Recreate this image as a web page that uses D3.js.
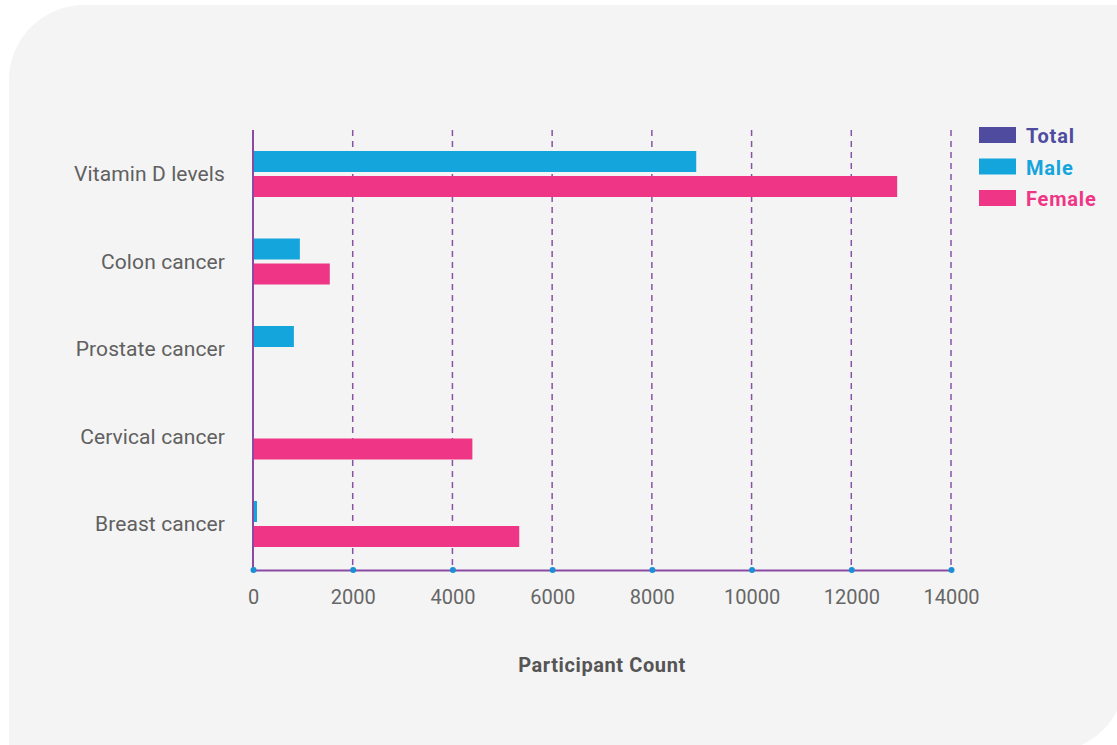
<!DOCTYPE html>
<html>
<head>
<meta charset="utf-8">
<script src="https://cdn.jsdelivr.net/npm/d3@7"></script>
<style>
html,body{margin:0;padding:0;background:#ffffff;}
svg{display:block;}
</style>
</head>
<body>
<svg id="chart" width="1117" height="745"></svg>
<script>
const categories = ["Vitamin D levels", "Colon cancer", "Prostate cancer", "Cervical cancer", "Breast cancer"];
const seriesNames = ["Total", "Male", "Female"];
const totalValues = [null, null, null, null, null];
const maleValues = [8890, 940, 820, null, 80];
const femaleValues = [12920, 1540, null, 4400, 5340];
const xTicks = [0, 2000, 4000, 6000, 8000, 10000, 12000, 14000];
const seriesColors = ["#4f4c9f", "#14a5dc", "#ef3686"];
const axisTitle = "Participant Count";

const values = {Total: totalValues, Male: maleValues, Female: femaleValues};

const svg = d3.select("#chart");
const font = "Roboto, 'DejaVu Sans', sans-serif";

// panel background
const L = 9, T = 5, R = 1125, B = 752, r = 75;
svg.append("path")
  .attr("d", `M${L},${B} L${L},${T + r} A${r},${r} 0 0 1 ${L + r},${T} L${R},${T} L${R},${B - r} A${r},${r} 0 0 1 ${R - r},${B} Z`)
  .attr("fill", "#f4f4f4");

const x = d3.scaleLinear().domain([0, 14000]).range([253, 951]);
const y0 = d3.scaleBand().domain(categories).range([130, 567.5]).padding(0);
const y1 = d3.scaleBand().domain(seriesNames).range([-4, 67]).paddingInner(0.16).paddingOuter(0);

// gridlines
svg.append("g").selectAll("line")
  .data(xTicks.filter(d => d > 0))
  .join("line")
  .attr("x1", d => x(d)).attr("x2", d => x(d))
  .attr("y1", 130).attr("y2", 570)
  .attr("stroke", "#8a52a6")
  .attr("stroke-width", 1.5)
  .attr("stroke-dasharray", "6,5");

// bars
const barG = svg.append("g");
categories.forEach((cat, i) => {
  seriesNames.forEach((s, j) => {
    const v = values[s][i];
    if (v == null) return;
    barG.append("rect")
      .attr("x", x(0))
      .attr("y", y0(cat) + y1(s))
      .attr("width", x(v) - x(0))
      .attr("height", y1.bandwidth())
      .attr("fill", seriesColors[j]);
  });
});

// y axis line
svg.append("line")
  .attr("x1", x(0)).attr("x2", x(0))
  .attr("y1", 130).attr("y2", 570)
  .attr("stroke", "#8a4aa3").attr("stroke-width", 2);

// x axis
const xAxis = d3.axisBottom(x).tickValues(xTicks).tickSize(0).tickPadding(20).tickFormat(d3.format("d"));
const gx = svg.append("g").attr("transform", "translate(0,570)").call(xAxis);
gx.select(".domain").attr("stroke", "#8a4aa3").attr("stroke-width", 2);
gx.selectAll(".tick text")
  .attr("font-family", font).attr("font-size", 20).attr("font-weight", 400)
  .attr("fill", "#666666");
gx.selectAll(".tick").append("circle")
  .attr("r", 3).attr("cy", 0).attr("fill", "#1b8fd6");

// y axis labels
const yAxis = d3.axisLeft(y0).tickSize(0).tickPadding(28);
const gy = svg.append("g").attr("transform", `translate(${x(0)},1)`).call(yAxis);
gy.select(".domain").remove();
gy.selectAll(".tick text")
  .attr("font-family", font).attr("font-size", 21).attr("font-weight", 400)
  .attr("letter-spacing", 0.1)
  .attr("fill", "#606060");

// axis title
svg.append("text")
  .attr("x", (x(0) + x(14000)) / 2).attr("y", 672)
  .attr("text-anchor", "middle")
  .attr("font-family", font).attr("font-size", 20).attr("font-weight", 700)
  .attr("letter-spacing", 0.6)
  .attr("fill", "#555555")
  .text(axisTitle);

// legend
const lg = svg.append("g").selectAll("g").data(seriesNames).join("g")
  .attr("transform", (d, i) => `translate(979,${127 + i * 31.5})`);
lg.append("rect").attr("width", 37).attr("height", 16).attr("fill", (d, i) => seriesColors[i]);
lg.append("text")
  .attr("x", 47).attr("y", 9).attr("dy", "0.36em")
  .attr("font-family", font).attr("font-size", 20).attr("font-weight", 700)
  .attr("letter-spacing", 0.8)
  .attr("fill", (d, i) => seriesColors[i])
  .text(d => d);
</script>
</body>
</html>
